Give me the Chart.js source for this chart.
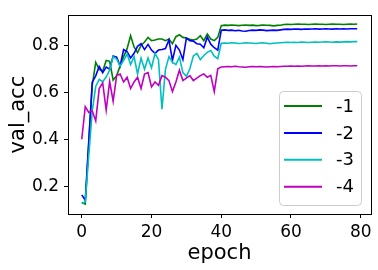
<!DOCTYPE html>
<html>
<head>
<meta charset="utf-8">
<script src="https://cdn.jsdelivr.net/npm/chart.js@4/dist/chart.umd.min.js"></script>
<style>
  html, body { margin: 0; padding: 0; background: #fff; }
</style>
</head>
<body>
<canvas id="chart" width="378" height="270"></canvas>
<script>
// epochs 0..79
const epochs = Array.from({ length: 80 }, (_, i) => i);

const seriesLabels = ['-1', '-2', '-3', '-4'];
const seriesColors = ['#008000', '#0000ff', '#00bfbf', '#bf00bf'];

const acc1 = [
  0.130, 0.124, 0.380, 0.630, 0.728, 0.698, 0.690, 0.736, 0.732, 0.652,
  0.671, 0.712, 0.752, 0.786, 0.841, 0.793, 0.769, 0.800, 0.814, 0.834,
  0.820, 0.823, 0.827, 0.827, 0.820, 0.827, 0.807, 0.837, 0.845, 0.834,
  0.831, 0.826, 0.823, 0.827, 0.841, 0.820, 0.848, 0.827, 0.820, 0.834,
  0.884, 0.886, 0.885, 0.887, 0.886, 0.884, 0.886, 0.887, 0.885, 0.886,
  0.884, 0.885, 0.887, 0.886, 0.885, 0.883, 0.885, 0.886, 0.889, 0.890,
  0.889, 0.890, 0.891, 0.890, 0.890, 0.889, 0.890, 0.891, 0.890, 0.890,
  0.889, 0.890, 0.891, 0.890, 0.890, 0.889, 0.890, 0.891, 0.890, 0.891
];
const acc2 = [
  0.163, 0.140, 0.390, 0.643, 0.670, 0.710, 0.684, 0.707, 0.698, 0.755,
  0.750, 0.712, 0.782, 0.773, 0.746, 0.766, 0.796, 0.807, 0.782, 0.804,
  0.780, 0.766, 0.780, 0.782, 0.786, 0.823, 0.736, 0.800, 0.780, 0.739,
  0.831, 0.820, 0.818, 0.807, 0.805, 0.790, 0.835, 0.805, 0.790, 0.780,
  0.864, 0.866, 0.864, 0.865, 0.862, 0.864, 0.861, 0.860, 0.863, 0.865,
  0.864, 0.866, 0.865, 0.863, 0.864, 0.865, 0.864, 0.866, 0.868, 0.869,
  0.868, 0.870, 0.869, 0.868, 0.870, 0.869, 0.870, 0.871, 0.869, 0.870,
  0.871, 0.870, 0.869, 0.871, 0.870, 0.871, 0.870, 0.871, 0.871, 0.871
];
const acc3 = [
  0.126, 0.133, 0.330, 0.520, 0.625, 0.655, 0.645, 0.665, 0.695, 0.752,
  0.741, 0.712, 0.736, 0.763, 0.718, 0.752, 0.678, 0.746, 0.698, 0.746,
  0.705, 0.766, 0.739, 0.528, 0.698, 0.752, 0.728, 0.718, 0.750, 0.684,
  0.668, 0.700, 0.755, 0.766, 0.739, 0.757, 0.770, 0.778, 0.754, 0.743,
  0.809, 0.810, 0.809, 0.811, 0.810, 0.808, 0.809, 0.811, 0.810, 0.809,
  0.808, 0.810, 0.811, 0.809, 0.807, 0.809, 0.810, 0.811, 0.812, 0.813,
  0.812, 0.813, 0.812, 0.814, 0.813, 0.812, 0.813, 0.814, 0.813, 0.814,
  0.815, 0.814, 0.813, 0.815, 0.814, 0.815, 0.816, 0.815, 0.816, 0.816
];
const acc4 = [
  0.400, 0.539, 0.514, 0.521, 0.478, 0.616, 0.640, 0.524, 0.646, 0.562,
  0.671, 0.678, 0.644, 0.664, 0.616, 0.644, 0.664, 0.616, 0.678, 0.684,
  0.623, 0.644, 0.630, 0.671, 0.664, 0.650, 0.603, 0.644, 0.694, 0.650,
  0.660, 0.671, 0.650, 0.660, 0.671, 0.678, 0.664, 0.672, 0.603, 0.700,
  0.708, 0.709, 0.710, 0.709, 0.711, 0.709, 0.708, 0.707, 0.709, 0.710,
  0.709, 0.710, 0.709, 0.708, 0.709, 0.710, 0.709, 0.710, 0.711, 0.711,
  0.712, 0.711, 0.712, 0.711, 0.712, 0.713, 0.712, 0.712, 0.713, 0.712,
  0.713, 0.712, 0.713, 0.713, 0.712, 0.713, 0.713, 0.712, 0.713, 0.713
];

const xTicks = [0, 20, 40, 60, 80];
const yTicks = [0.2, 0.4, 0.6, 0.8];

Chart.defaults.font.family = 'DejaVu Sans';
Chart.defaults.color = '#000';

// top and right spines, drawn over the lines like matplotlib
const framePlugin = {
  id: 'frame',
  afterDatasetsDraw(chart) {
    const { ctx, chartArea: a } = chart;
    ctx.save();
    ctx.strokeStyle = '#000';
    ctx.lineWidth = 1;
    ctx.strokeRect(Math.round(a.left) + 0.5, Math.round(a.top) + 0.5,
      Math.round(a.right - a.left), Math.round(a.bottom - a.top));
    ctx.restore();
  }
};

// matplotlib style legend in the lower right of the axes
const legendPlugin = {
  id: 'mplLegend',
  afterDraw(chart) {
    const { ctx } = chart;
    const x0 = 279, y0 = 91, w = 82, h = 114, r = 4;
    ctx.save();
    ctx.beginPath();
    ctx.roundRect(x0 + 0.5, y0 + 0.5, w, h, r);
    ctx.fillStyle = 'rgba(255,255,255,0.8)';
    ctx.fill();
    ctx.strokeStyle = '#cccccc';
    ctx.lineWidth = 1;
    ctx.stroke();
    ctx.font = '18px "DejaVu Sans"';
    ctx.textBaseline = 'middle';
    ctx.textAlign = 'left';
    chart.data.datasets.forEach((ds, i) => {
      const y = 106 + i * 26.9;
      ctx.beginPath();
      ctx.moveTo(284, y);
      ctx.lineTo(322, y);
      ctx.strokeStyle = ds.borderColor;
      ctx.lineWidth = 2;
      ctx.stroke();
      ctx.fillStyle = '#000';
      ctx.fillText(ds.label, 336, y + 1);
    });
    ctx.restore();
  }
};

const seriesData = [acc1, acc2, acc3, acc4];

new Chart(document.getElementById('chart'), {
  type: 'line',
  data: {
    labels: epochs,
    datasets: seriesData.map((d, i) => ({
      label: seriesLabels[i],
      data: d,
      borderColor: seriesColors[i],
      backgroundColor: seriesColors[i],
      order: 3 - i
    }))
  },
  options: {
    responsive: false,
    animation: false,
    layout: { padding: { top: 6, right: 7, left: 0, bottom: 0 } },
    elements: {
      point: { radius: 0 },
      line: { borderWidth: 1.6, tension: 0 }
    },
    plugins: {
      legend: { display: false },
      tooltip: { enabled: false }
    },
    scales: {
      x: {
        type: 'linear',
        min: -3.95,
        max: 82.95,
        afterBuildTicks: s => { s.ticks = xTicks.map(v => ({ value: v })); },
        afterFit: s => { s.height = 56; },
        grid: { drawOnChartArea: false, drawTicks: true, tickLength: 4, tickColor: '#000' },
        border: { color: '#000', width: 1 },
        ticks: { font: { size: 17 }, padding: 4, maxRotation: 0 },
        title: { display: true, text: 'epoch', font: { size: 21 }, padding: { top: 0, bottom: 4 } }
      },
      y: {
        min: 0.0815,
        max: 0.9285,
        afterBuildTicks: s => { s.ticks = yTicks.map(v => ({ value: v })); },
        afterFit: s => { s.width = 68; },
        grid: { drawOnChartArea: false, drawTicks: true, tickLength: 4, tickColor: '#000' },
        border: { color: '#000', width: 1 },
        ticks: { font: { size: 17 }, padding: 5, callback: v => v.toFixed(1) },
        title: { display: true, text: 'val_acc', font: { size: 21 }, padding: { top: 6, bottom: 0 } }
      }
    }
  },
  plugins: [framePlugin, legendPlugin]
});
</script>
</body>
</html>
